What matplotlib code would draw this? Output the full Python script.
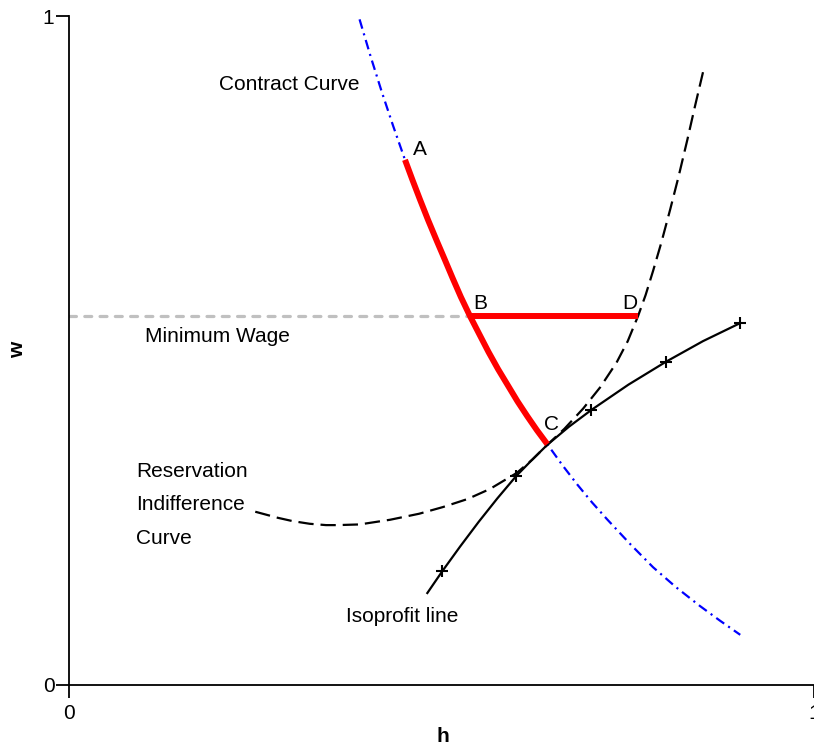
import matplotlib
matplotlib.use("Agg")
import matplotlib.pyplot as plt

plt.rcParams['font.family'] = ['Liberation Sans', 'DejaVu Sans']
plt.rcParams['lines.scale_dashes'] = False

# Contract curve (h, w)
contract_h = [0.390, 0.405, 0.420, 0.435, 0.451, 0.461, 0.471, 0.482, 0.494, 0.504,
              0.515, 0.526, 0.538, 0.550, 0.563, 0.576, 0.589, 0.602, 0.615, 0.628,
              0.642, 0.662, 0.682, 0.702, 0.722, 0.753, 0.784, 0.815, 0.847, 0.874,
              0.901]
contract_w = [0.995, 0.939, 0.886, 0.836, 0.785, 0.755, 0.726, 0.695, 0.663, 0.637,
              0.608, 0.580, 0.552, 0.526, 0.498, 0.472, 0.448, 0.424, 0.402, 0.381,
              0.360, 0.329, 0.300, 0.273, 0.248, 0.211, 0.176, 0.146, 0.118, 0.096,
              0.075]
idx_A, idx_C = 4, 20

# Reservation indifference curve
resv_h = [0.250, 0.280, 0.300, 0.323, 0.345, 0.360, 0.390, 0.431, 0.470, 0.502,
          0.535, 0.565, 0.601, 0.622, 0.642, 0.665, 0.690, 0.713, 0.735, 0.750,
          0.764, 0.774, 0.784, 0.795, 0.807, 0.818, 0.830, 0.840, 0.851]
resv_w = [0.259, 0.250, 0.245, 0.241, 0.239, 0.239, 0.240, 0.247, 0.256, 0.266,
          0.278, 0.293, 0.317, 0.337, 0.359, 0.383, 0.413, 0.445, 0.482, 0.514,
          0.552, 0.583, 0.619, 0.661, 0.711, 0.759, 0.815, 0.864, 0.916]

# Isoprofit line
iso_h = [0.481, 0.501, 0.525, 0.550, 0.575, 0.600, 0.621, 0.642, 0.671, 0.701,
         0.751, 0.801, 0.851, 0.901]
iso_w = [0.1375, 0.170, 0.207, 0.244, 0.279, 0.312, 0.336, 0.359, 0.386, 0.411,
         0.449, 0.483, 0.514, 0.541]
iso_marks = [1, 5, 9, 11, 13]

# Minimum wage and points
min_wage = 0.552
h_B, h_D = 0.538, 0.764

fig = plt.figure(figsize=(8.14, 7.5), dpi=100)
ax = fig.add_axes([69/814, 65/750, 745/814, 669/750])
ax.set_xlim(0, 1)
ax.set_ylim(0, 1)

# minimum wage
ax.plot([0, h_B], [min_wage, min_wage], color='#c0c0c0', lw=2.3,
        linestyle=(0, (5, 6)), dash_capstyle='round', zorder=2)

# contract curve
ax.plot(contract_h, contract_w, color='#0000ff', lw=1.6,
        linestyle=(0, (7, 3.5, 1.5, 3.5)), zorder=3)

# reservation indifference curve
ax.plot(resv_h, resv_w, color='black', lw=1.6, linestyle=(0, (11, 5)), zorder=3)

# isoprofit
ax.plot(iso_h, iso_w, color='black', lw=1.6, zorder=3)
ax.plot([iso_h[i] for i in iso_marks], [iso_w[i] for i in iso_marks], '+',
        color='black', ms=8, mew=1.5, zorder=4)

# red segments
ax.plot(contract_h[idx_A:idx_C+1], contract_w[idx_A:idx_C+1], color='#ff0000', lw=4.3,
        solid_capstyle='butt', solid_joinstyle='round', zorder=5)
ax.plot([h_B, h_D], [min_wage, min_wage], color='#ff0000', lw=4.3,
        solid_capstyle='butt', zorder=5)

fs = 15
ax.text(0.201, 0.898, 'Contract Curve', fontsize=fs, va='center', ha='left')
ax.text(0.462, 0.800, 'A', fontsize=fs, va='center', ha='left')
ax.text(0.542, 0.571, 'B', fontsize=fs, va='center', ha='left')
ax.text(0.742, 0.571, 'D', fontsize=fs, va='center', ha='left')
ax.text(0.638, 0.389, 'C', fontsize=fs, va='center', ha='left')
ax.text(0.102, 0.521, 'Minimum Wage', fontsize=fs, va='center', ha='left')
ax.text(0.090, 0.319, 'Reservation', fontsize=fs, va='center', ha='left')
ax.text(0.090, 0.270, 'Indifference', fontsize=fs, va='center', ha='left')
ax.text(0.090, 0.219, 'Curve', fontsize=fs, va='center', ha='left')
ax.text(0.372, 0.103, 'Isoprofit line', fontsize=fs, va='center', ha='left')

for s in ['top', 'right']:
    ax.spines[s].set_visible(False)
for s in ['left', 'bottom']:
    ax.spines[s].set_linewidth(1.3)
ax.set_xticks([0, 1])
ax.set_yticks([0, 1])
ax.set_xticklabels(['0', '1'])
ax.set_yticklabels(['0', '1'])
ax.tick_params(axis='both', length=9.5, width=1.3, labelsize=fs)
ax.tick_params(axis='y', pad=1)
ax.tick_params(axis='x', pad=4)

fig.text(18/814, 1 - 350/750, 'w', fontsize=fs, fontweight='bold', rotation=90,
         ha='center', va='center')
fig.text(443/814, 1 - 737/750, 'h', fontsize=fs, fontweight='bold',
         ha='center', va='center')

fig.savefig('out.png', dpi=100)
